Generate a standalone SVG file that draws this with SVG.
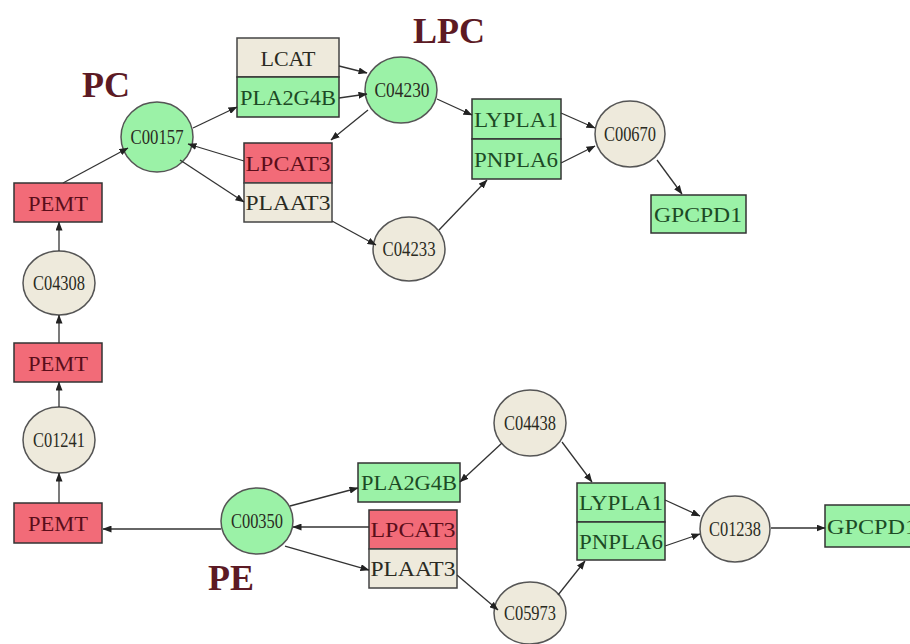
<svg xmlns="http://www.w3.org/2000/svg" width="910" height="644" viewBox="0 0 910 644">
<defs>
<marker id="arr" markerWidth="9" markerHeight="7" refX="8.5" refY="3.5" orient="auto" markerUnits="userSpaceOnUse">
<path d="M0,0 L9,3.5 L0,7 Z" fill="#222"/>
</marker>
<style>
.bg{fill:#ffffff}
.green{fill:#9bf2a7;stroke:#333;stroke-width:1.5}
.beige{fill:#eeeadc;stroke:#444;stroke-width:1.5}
.red{fill:#f26b78;stroke:#333;stroke-width:1.5}
.cg{fill:#9bf2a7;stroke:#555;stroke-width:1.5}
.cb{fill:#eeeadc;stroke:#555;stroke-width:1.5}
.bt{font-family:"Liberation Serif","Times New Roman",serif;font-size:22px;text-anchor:middle}
.ct{font-family:"Liberation Serif","Times New Roman",serif;font-size:20px;text-anchor:middle;fill:#2a2a22}
.tg{fill:#1d4a25}
.tr{fill:#5a0e1a}
.tb{fill:#2a2a22}
.title{font-family:"Liberation Serif","Times New Roman",serif;font-size:36px;font-weight:bold;fill:#5c1a24;text-anchor:middle}
.e{stroke:#333;stroke-width:1.3;fill:none;marker-end:url(#arr)}
</style>
</defs>
<rect class="bg" x="0" y="0" width="910" height="644"/>

<g id="labels">
<text class="title" x="106" y="97">PC</text>
<text class="title" x="449" y="43">LPC</text>
<text class="title" x="231" y="590">PE</text>
</g>

<g id="n-C00157"><ellipse class="cg" cx="157" cy="137" rx="36" ry="35"/><text class="ct" x="157" y="144" textLength="53" lengthAdjust="spacingAndGlyphs">C00157</text></g>
<g id="n-C04230"><ellipse class="cg" cx="401" cy="90" rx="36" ry="33"/><text class="ct" x="402" y="97" textLength="55" lengthAdjust="spacingAndGlyphs">C04230</text></g>
<g id="n-C04233"><ellipse class="cb" cx="409" cy="249" rx="36" ry="32"/><text class="ct" x="409" y="256" textLength="53" lengthAdjust="spacingAndGlyphs">C04233</text></g>
<g id="n-C00670"><ellipse class="cb" cx="630" cy="134" rx="35" ry="33"/><text class="ct" x="630" y="141" textLength="52" lengthAdjust="spacingAndGlyphs">C00670</text></g>
<g id="n-C04308"><ellipse class="cb" cx="59" cy="283" rx="36" ry="32"/><text class="ct" x="59" y="290" textLength="52" lengthAdjust="spacingAndGlyphs">C04308</text></g>
<g id="n-C01241"><ellipse class="cb" cx="59" cy="440" rx="36" ry="33"/><text class="ct" x="59" y="447" textLength="52" lengthAdjust="spacingAndGlyphs">C01241</text></g>
<g id="n-C00350"><ellipse class="cg" cx="257" cy="521" rx="36" ry="33"/><text class="ct" x="257" y="528" textLength="52" lengthAdjust="spacingAndGlyphs">C00350</text></g>
<g id="n-C04438"><ellipse class="cb" cx="530" cy="423" rx="36" ry="33"/><text class="ct" x="530" y="430" textLength="52" lengthAdjust="spacingAndGlyphs">C04438</text></g>
<g id="n-C01238"><ellipse class="cb" cx="735" cy="529" rx="35" ry="33"/><text class="ct" x="735" y="536" textLength="52" lengthAdjust="spacingAndGlyphs">C01238</text></g>
<g id="n-C05973"><ellipse class="cb" cx="530" cy="613" rx="36" ry="31"/><text class="ct" x="530" y="620" textLength="52" lengthAdjust="spacingAndGlyphs">C05973</text></g>

<g id="n-LCAT"><rect class="beige" x="237" y="38" width="102" height="39"/><text class="bt tb" x="288" y="66">LCAT</text></g>
<g id="n-PLA2G4B-1"><rect class="green" x="237" y="77" width="102" height="40"/><text class="bt tg" x="288" y="105" textLength="96" lengthAdjust="spacingAndGlyphs">PLA2G4B</text></g>
<g id="n-LPCAT3-1"><rect class="red" x="244" y="143" width="88" height="40"/><text class="bt tr" x="288" y="171" textLength="85" lengthAdjust="spacingAndGlyphs">LPCAT3</text></g>
<g id="n-PLAAT3-1"><rect class="beige" x="244" y="183" width="88" height="39"/><text class="bt tb" x="288" y="210" textLength="85" lengthAdjust="spacingAndGlyphs">PLAAT3</text></g>
<g id="n-LYPLA1-1"><rect class="green" x="472" y="99" width="89" height="40"/><text class="bt tg" x="516" y="127" textLength="84" lengthAdjust="spacingAndGlyphs">LYPLA1</text></g>
<g id="n-PNPLA6-1"><rect class="green" x="472" y="139" width="89" height="40"/><text class="bt tg" x="516" y="167" textLength="84" lengthAdjust="spacingAndGlyphs">PNPLA6</text></g>
<g id="n-GPCPD1-1"><rect class="green" x="651" y="195" width="95" height="38"/><text class="bt tg" x="698" y="222" textLength="88" lengthAdjust="spacingAndGlyphs">GPCPD1</text></g>
<g id="n-PEMT-1"><rect class="red" x="14" y="183" width="88" height="39"/><text class="bt tr" x="58" y="211" textLength="60" lengthAdjust="spacingAndGlyphs">PEMT</text></g>
<g id="n-PEMT-2"><rect class="red" x="14" y="343" width="88" height="39"/><text class="bt tr" x="58" y="371" textLength="60" lengthAdjust="spacingAndGlyphs">PEMT</text></g>
<g id="n-PEMT-3"><rect class="red" x="14" y="503" width="88" height="40"/><text class="bt tr" x="58" y="531" textLength="60" lengthAdjust="spacingAndGlyphs">PEMT</text></g>
<g id="n-PLA2G4B-2"><rect class="green" x="358" y="463" width="102" height="39"/><text class="bt tg" x="409" y="490" textLength="96" lengthAdjust="spacingAndGlyphs">PLA2G4B</text></g>
<g id="n-LPCAT3-2"><rect class="red" x="369" y="510" width="88" height="39"/><text class="bt tr" x="413" y="537" textLength="85" lengthAdjust="spacingAndGlyphs">LPCAT3</text></g>
<g id="n-PLAAT3-2"><rect class="beige" x="369" y="549" width="88" height="39"/><text class="bt tb" x="413" y="576" textLength="85" lengthAdjust="spacingAndGlyphs">PLAAT3</text></g>
<g id="n-LYPLA1-2"><rect class="green" x="577" y="483" width="88" height="39"/><text class="bt tg" x="621" y="510" textLength="84" lengthAdjust="spacingAndGlyphs">LYPLA1</text></g>
<g id="n-PNPLA6-2"><rect class="green" x="577" y="522" width="88" height="38"/><text class="bt tg" x="621" y="549" textLength="84" lengthAdjust="spacingAndGlyphs">PNPLA6</text></g>
<g id="n-GPCPD1-2"><rect class="green" x="825" y="505" width="95" height="42"/><text class="bt tg" x="827" y="534" style="text-anchor:start" textLength="90" lengthAdjust="spacingAndGlyphs">GPCPD1</text></g>

<g id="connectors">
<line class="e" x1="63" y1="183" x2="128" y2="148"/>
<line class="e" x1="193" y1="128" x2="237" y2="107"/>
<line class="e" x1="244" y1="161" x2="188" y2="144"/>
<line class="e" x1="180" y1="160" x2="244" y2="202"/>
<line class="e" x1="339" y1="66" x2="367" y2="73"/>
<line class="e" x1="339" y1="98" x2="367" y2="94"/>
<line class="e" x1="368" y1="110" x2="331" y2="140"/>
<line class="e" x1="437" y1="99" x2="472" y2="115"/>
<line class="e" x1="332" y1="221" x2="376" y2="245"/>
<line class="e" x1="439" y1="230" x2="487" y2="180"/>
<line class="e" x1="561" y1="113" x2="595" y2="128"/>
<line class="e" x1="561" y1="163" x2="595" y2="146"/>
<line class="e" x1="657" y1="160" x2="682" y2="194"/>
<line class="e" x1="59" y1="251" x2="59" y2="222"/>
<line class="e" x1="59" y1="343" x2="59" y2="315"/>
<line class="e" x1="59" y1="407" x2="59" y2="382"/>
<line class="e" x1="59" y1="503" x2="59" y2="473"/>
<line class="e" x1="221" y1="529" x2="103" y2="529"/>
<line class="e" x1="290" y1="506" x2="358" y2="488"/>
<line class="e" x1="369" y1="527" x2="293" y2="527"/>
<line class="e" x1="285" y1="546" x2="369" y2="570"/>
<line class="e" x1="502" y1="443" x2="460" y2="482"/>
<line class="e" x1="457" y1="575" x2="498" y2="610"/>
<line class="e" x1="562" y1="442" x2="592" y2="482"/>
<line class="e" x1="558" y1="595" x2="585" y2="561"/>
<line class="e" x1="665" y1="500" x2="700" y2="516"/>
<line class="e" x1="665" y1="546" x2="700" y2="534"/>
<line class="e" x1="771" y1="528" x2="825" y2="528"/>
</g>
</svg>
